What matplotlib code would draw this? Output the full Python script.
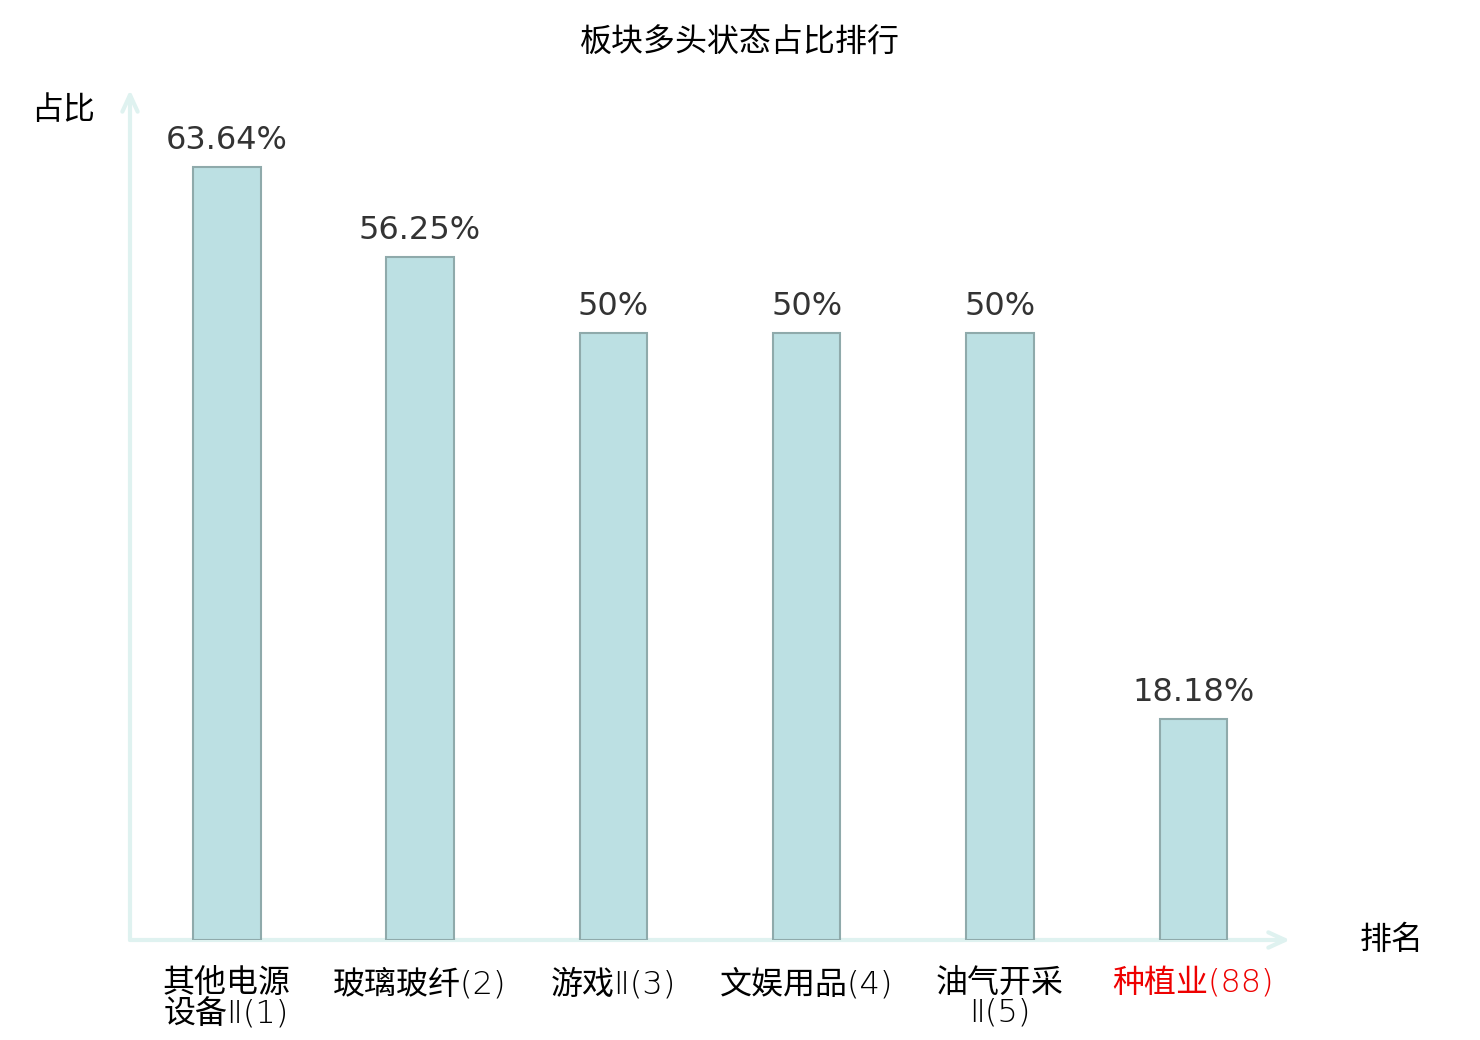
import matplotlib
matplotlib.use("Agg")
import matplotlib.pyplot as plt

categories = ["其他电源\n设备Ⅱ(1)", "玻璃玻纤(2)", "游戏Ⅱ(3)", "文娱用品(4)", "油气开采\nⅡ(5)", "种植业(88)"]
values = [63.64, 56.25, 50, 50, 50, 18.18]
value_labels = ["63.64%", "56.25%", "50%", "50%", "50%", "18.18%"]
label_colors = ["black", "black", "black", "black", "black", "#ee0000"]

plt.rcParams['font.family'] = ['Noto Sans CJK SC', 'DejaVu Sans']

fig = plt.figure(figsize=(14.8, 10.4), dpi=100)
ax = fig.add_axes([130/1480, 100/1040, 1160/1480, 850/1040])

x = list(range(len(categories)))
bars = ax.bar(x, values, width=0.35, color="#bce0e3", edgecolor="#8faaab", linewidth=1.5, zorder=3)
ax.set_xlim(-0.5, 5.5)
ax.set_ylim(0, 70)

for xi, v, lab in zip(x, values, value_labels):
    ax.annotate(lab, (xi, v), xytext=(0, 8), textcoords="offset points",
                ha="center", va="bottom", fontsize=23, color="#333333",
                family="DejaVu Sans")

for s in ax.spines.values():
    s.set_visible(False)
ax.set_yticks([])
ax.set_xticks(x)
ax.set_xticklabels(categories, fontsize=23, linespacing=1.0,
                   family=['DejaVu Sans', 'Noto Sans CJK SC'], weight='light')
for t, c in zip(ax.get_xticklabels(), label_colors):
    t.set_color(c)
ax.tick_params(axis="x", length=0, pad=20)

axis_color = "#dff2f0"
for end in [(1.0, 0), (0, 1.0)]:
    ax.annotate("", xy=end, xytext=(0, 0), xycoords="axes fraction",
                arrowprops=dict(arrowstyle="->,head_length=1.2,head_width=0.55", color=axis_color, lw=3,
                                shrinkA=0, shrinkB=0), annotation_clip=False, zorder=1)

fig.text(740/1480, 1 - 43/1040, "板块多头状态占比排行", ha="center", va="center", fontsize=23, color="black")
fig.text(63/1480, 1 - 110/1040, "占比", ha="center", va="center", fontsize=23, color="black")
fig.text(1392/1480, 1 - 940/1040, "排名", ha="center", va="center", fontsize=23, color="black")

fig.savefig("out.png", dpi=100)
